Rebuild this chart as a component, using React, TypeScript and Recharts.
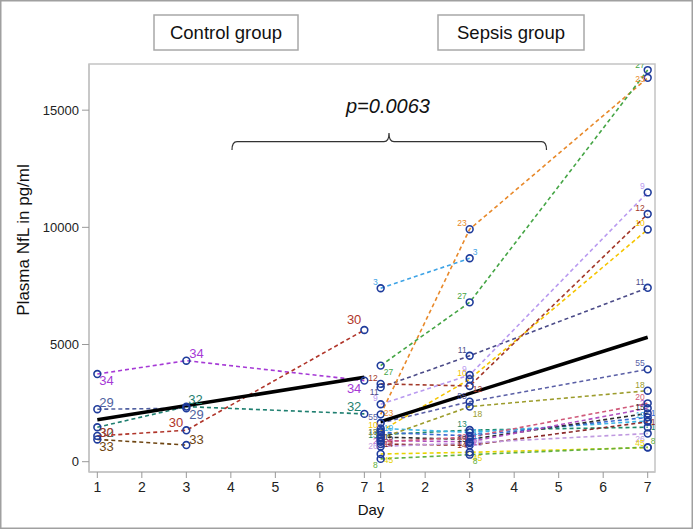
import React from 'react';
import { LineChart, Line, XAxis, YAxis, ReferenceArea } from 'recharts';

// ---- data ----
const DAYS = [1, 3, 7];
const CONTROL_TICK_DAYS = [1, 2, 3, 4, 5, 6, 7];
const SEPSIS_TICK_DAYS = [1, 2, 3, 4, 5, 6, 7];
const SEPSIS_SHIFT = 6.366;
const Y_TICKS = [0, 5000, 10000, 15000];

// control group, values on day 1, 3, 7 (null = missing)
const c34 = [3740, 4310, 3460];
const c29 = [2240, 2280, null];
const c32 = [1470, 2350, 2040];
const c30 = [1100, 1340, 5620];
const c33 = [950, 710, null];
const controlMeanDays = [1, 7];
const controlMean = [1790, 3600];

// sepsis group, values on day 1, 3, 7
const s27 = [4100, 6800, 16710];
const s23 = [2020, 9920, 16380];
const s3 = [7400, 8680, null];
const s9 = [2450, 3700, 11490];
const s12 = [3320, 3230, 10570];
const s10 = [1300, 3520, 9910];
const s11 = [3170, 4520, 7420];
const s55 = [1650, 2560, 3940];
const s18 = [1000, 2350, 3030];
const s20 = [850, 1050, 2490];
const s13 = [1150, 1350, 1470];
const s19 = [1420, 1250, 1740];
const s17 = [1250, 1100, 1890];
const s15 = [1050, 950, 2060];
const s2 = [900, 850, 2280];
const s14 = [750, 700, 1700];
const s26 = [650, 800, 1200];
const s45 = [330, 400, 600];
const s8 = [120, 300, 620];
const sepsisMeanDays = [1, 7];
const sepsisMean = [1710, 5310];

// ---- styles ----
type Pos = [number, number, 'start' | 'end' | 'middle'];
interface Series { id: string; group: 'c' | 's'; values: (number | null)[]; color: string; }

const SERIES: Series[] = [
  { id: '34', group: 'c', values: c34, color: '#a63ad6' },
  { id: '29', group: 'c', values: c29, color: '#4f5fa0' },
  { id: '32', group: 'c', values: c32, color: '#1f7f70' },
  { id: '30', group: 'c', values: c30, color: '#b0352a' },
  { id: '33', group: 'c', values: c33, color: '#6e4512' },
  { id: '13', group: 's', values: s13, color: '#1e8a6a' },
  { id: '19', group: 's', values: s19, color: '#3cb4e6' },
  { id: '17', group: 's', values: s17, color: '#3a6ad0' },
  { id: '15', group: 's', values: s15, color: '#2e2e2e' },
  { id: '2', group: 's', values: s2, color: '#b050c0' },
  { id: '14', group: 's', values: s14, color: '#8a2a2a' },
  { id: '26', group: 's', values: s26, color: '#c09ae0' },
  { id: '45', group: 's', values: s45, color: '#e8d400' },
  { id: '8', group: 's', values: s8, color: '#5fb040' },
  { id: '20', group: 's', values: s20, color: '#d05a7a' },
  { id: '18', group: 's', values: s18, color: '#9c9c2c' },
  { id: '55', group: 's', values: s55, color: '#5a5fa6' },
  { id: '11', group: 's', values: s11, color: '#4b4b88' },
  { id: '10', group: 's', values: s10, color: '#f5c400' },
  { id: '12', group: 's', values: s12, color: '#a3392a' },
  { id: '9', group: 's', values: s9, color: '#b99af0' },
  { id: '3', group: 's', values: s3, color: '#3fa4e6' },
  { id: '23', group: 's', values: s23, color: '#e8892a' },
  { id: '27', group: 's', values: s27, color: '#45a545' },
];

const LABEL_POS: Record<string, Pos[]> = {
  '34': [[2, 11, 'start'], [3, -3, 'start'], [-3, 12, 'end']],
  '29': [[2, -2, 'start'], [3, 11, 'start']],
  '32': [[2, 10, 'start'], [2, -3, 'start'], [-3, -3, 'end']],
  '30': [[2, 1, 'start'], [-3, -3, 'end'], [-3, -6, 'end']],
  '33': [[2, 12, 'start'], [3, -1, 'start']],
  '27': [[3, 9, 'start'], [-3, -3, 'end'], [-3, -2, 'end']],
  '23': [[3, 2, 'start'], [-3, -3, 'end'], [-3, 4, 'end']],
  '3': [[-3, -3, 'end'], [3, -3, 'start']],
  '45': [[3, 9, 'start'], [3, 9, 'start'], [-3, -2, 'end']],
  '8': [[-3, 9, 'end'], [3, 9, 'start'], [3, -3, 'start']],
  '18': [[-3, -3, 'end'], [3, 10, 'start'], [-3, -3, 'end']],
  '11': [[-2, 8, 'end'], [-3, -3, 'end'], [-3, -3, 'end']],
  '12': [[-3, -3, 'end'], [3, 6, 'start'], [-3, -3, 'end']],
  '13': [[-3, 3, 'end'], [-3, -3, 'end'], [3, 3, 'start']],
  '19': [[3, 3, 'start'], [3, 3, 'start'], [-3, -3, 'end']],
  '17': [[-3, 3, 'end'], [3, 3, 'start'], [3, -1, 'start']],
  '15': [[3, 3, 'start'], [-3, 3, 'end'], [-3, -3, 'end']],
  '2': [[-3, 3, 'end'], [3, 3, 'start'], [-3, -2, 'end']],
  '14': [[3, 3, 'start'], [-3, 3, 'end'], [3, 3, 'start']],
  '26': [[-3, 3, 'end'], [3, 3, 'start'], [-3, 8, 'end']],
  '20': [[3, 3, 'start'], [-3, 3, 'end'], [-3, -3, 'end']],
};
const DEFAULT_POS: Pos = [-3, -3, 'end'];

const DOT_COLOR = '#1f3c9c';
const LABEL_FONT = 'Liberation Sans, Arial, sans-serif';

const xOf = (group: 'c' | 's', d: number) => (group === 'c' ? d : d + SEPSIS_SHIFT);

const seriesData = (s: Series) =>
  DAYS.map((d, i) => ({ x: xOf(s.group, d), y: s.values[i] })).filter((p) => p.y != null);

const meanData = (group: 'c' | 's', days: number[], vals: number[]) =>
  days.map((d, i) => ({ x: xOf(group, d), y: vals[i] }));

const X_TICKS = [...CONTROL_TICK_DAYS, ...SEPSIS_TICK_DAYS.map((d) => d + SEPSIS_SHIFT)];
const fmtX = (v: number) => (v > 7.1 ? String(Math.round(v - SEPSIS_SHIFT)) : String(v));

const X_DOMAIN: [number, number] = [0.813, 13.53];
const Y_DOMAIN: [number, number] = [-440, 16970];

const makeDot = (s: Series) => (props: any) => {
  const { cx, cy, index } = props;
  const k = `${s.id}-${index}`;
  if (cx == null || cy == null) return <g key={k} />;
  const pos = (LABEL_POS[s.id] && LABEL_POS[s.id][index]) || DEFAULT_POS;
  const fs = s.group === 'c' ? 13 : 8.5;
  return (
    <g key={k}>
      <circle cx={cx} cy={cy} r={3.4} fill="none" stroke={DOT_COLOR} strokeWidth={1.6} />
      <text x={cx + pos[0]} y={cy + pos[1]} textAnchor={pos[2]} fontSize={fs} fill={s.color} fontFamily={LABEL_FONT}>
        {s.id}
      </text>
    </g>
  );
};

export default function App() {
  return (
    <div style={{ position: 'absolute', left: 0, top: 0, width: 693, height: 529, background: '#fff', overflow: 'hidden' }}>
      <LineChart width={693} height={529} margin={{ top: 64, right: 38, bottom: 27, left: 29 }}>
        <ReferenceArea
          x1={X_DOMAIN[0]}
          x2={X_DOMAIN[1]}
          y1={Y_DOMAIN[0]}
          y2={Y_DOMAIN[1]}
          fill="none"
          stroke="#c4c4c4"
          strokeWidth={1.5}
          ifOverflow="visible"
        />
        <XAxis
          type="number"
          dataKey="x"
          domain={X_DOMAIN}
          ticks={X_TICKS}
          tickFormatter={fmtX}
          allowDataOverflow
          interval={0}
          axisLine={{ stroke: '#c4c4c4', strokeWidth: 1.5 }}
          tickLine={{ stroke: '#999' }}
          tickSize={6}
          tickMargin={4}
          height={30}
          tick={{ fontSize: 14, fill: '#222', fontFamily: LABEL_FONT }}
        />
        <YAxis
          type="number"
          domain={Y_DOMAIN}
          ticks={Y_TICKS}
          allowDataOverflow
          width={60}
          axisLine={{ stroke: '#c4c4c4', strokeWidth: 1.5 }}
          tickLine={{ stroke: '#999' }}
          tickSize={7}
          tickMargin={3}
          tick={{ fontSize: 13, fill: '#222', fontFamily: LABEL_FONT }}
        />
        {SERIES.map((s) => (
          <Line
            key={s.id}
            data={seriesData(s)}
            dataKey="y"
            stroke={s.color}
            strokeWidth={1.6}
            strokeDasharray="4 3"
            dot={makeDot(s)}
            activeDot={false}
            isAnimationActive={false}
          />
        ))}
        <Line
          data={meanData('c', controlMeanDays, controlMean)}
          dataKey="y"
          stroke="#000"
          strokeWidth={3.5}
          dot={false}
          activeDot={false}
          isAnimationActive={false}
        />
        <Line
          data={meanData('s', sepsisMeanDays, sepsisMean)}
          dataKey="y"
          stroke="#000"
          strokeWidth={3.5}
          dot={false}
          activeDot={false}
          isAnimationActive={false}
        />
      </LineChart>
      <svg width={693} height={529} style={{ position: 'absolute', left: 0, top: 0, pointerEvents: 'none' }}>
        <rect x={154} y={15} width={144} height={35} fill="#fff" stroke="#a8a8a8" strokeWidth={1.5} />
        <text x={226} y={39} textAnchor="middle" fontSize={18.5} fontFamily={LABEL_FONT} fill="#111">Control group</text>
        <rect x={438} y={15} width={146} height={35} fill="#fff" stroke="#a8a8a8" strokeWidth={1.5} />
        <text x={511} y={39} textAnchor="middle" fontSize={18.5} fontFamily={LABEL_FONT} fill="#111">Sepsis group</text>
        <text x={388} y={113} textAnchor="middle" fontSize={20} fontStyle="italic" fontFamily={LABEL_FONT} fill="#111">p=0.0063</text>
        <path
          d="M232,150 Q232,141.7 237,141.7 L384,141.7 Q389,141.7 389,133 Q389,141.7 394,141.7 L541.5,141.7 Q546.5,141.7 546.5,150"
          fill="none"
          stroke="#333"
          strokeWidth={1.2}
        />
        <text transform="translate(29,240) rotate(-90)" textAnchor="middle" fontSize={17} fontFamily={LABEL_FONT} fill="#111">Plasma NfL in pg/ml</text>
        <text x={371} y={515} textAnchor="middle" fontSize={15} fontFamily={LABEL_FONT} fill="#111">Day</text>
        <rect x={0.75} y={0.75} width={691.5} height={527.5} fill="none" stroke="#a0a0a0" strokeWidth={1.5} />
      </svg>
    </div>
  );
}
